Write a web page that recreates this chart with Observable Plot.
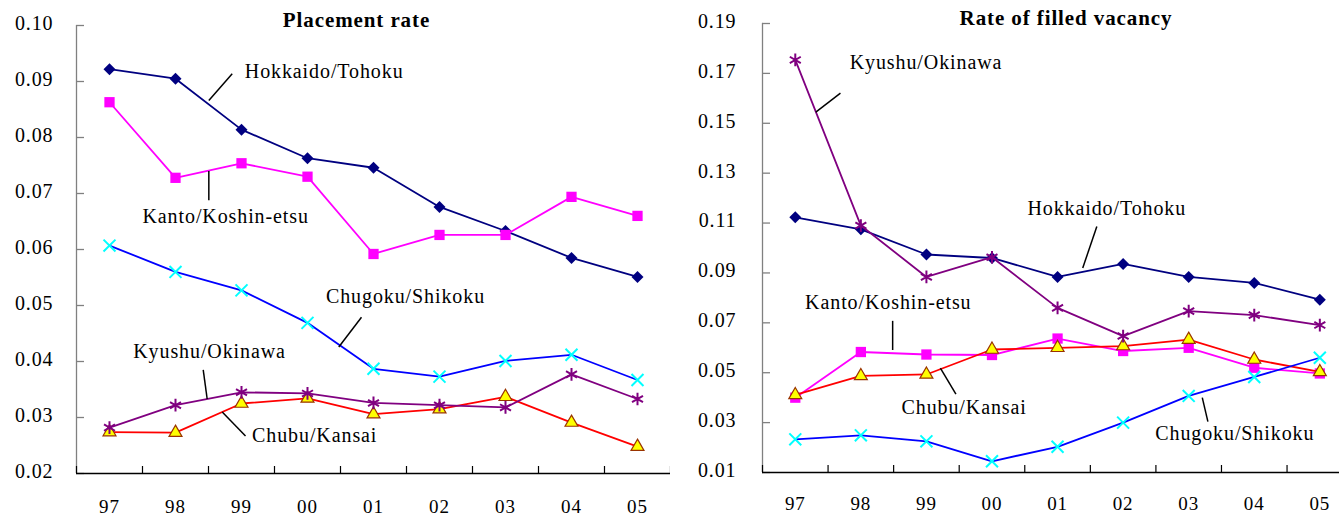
<!DOCTYPE html>
<html>
<head>
<meta charset="utf-8">
<script src="https://cdn.jsdelivr.net/npm/d3@7"></script>
<script src="https://cdn.jsdelivr.net/npm/@observablehq/plot@0.6"></script>
<style>
  html, body { margin: 0; padding: 0; background: #fff; }
  #wrap { display: flex; width: 1339px; height: 516px; }
  #wrap svg { display: block; }
  #wrap svg text { font-family: "Liberation Serif", "Times New Roman", serif !important; }
</style>
</head>
<body>
<div id="wrap"></div>
<script>
// Fiscal years on the horizontal axis
const years = ["97", "98", "99", "00", "01", "02", "03", "04", "05"];

// Placement rate by region
const placementHokkaido = [0.0922, 0.0905, 0.0814, 0.0763, 0.0746, 0.0676, 0.0633, 0.0585, 0.0551];
const placementKanto    = [0.0863, 0.0728, 0.0754, 0.0730, 0.0592, 0.0626, 0.0626, 0.0694, 0.0660];
const placementChubu    = [0.0274, 0.0273, 0.0325, 0.0334, 0.0306, 0.0315, 0.0337, 0.0291, 0.0248];
const placementChugoku  = [0.0607, 0.0560, 0.0527, 0.0469, 0.0387, 0.0373, 0.0401, 0.0412, 0.0367];
const placementKyushu   = [0.0282, 0.0322, 0.0345, 0.0343, 0.0326, 0.0322, 0.0318, 0.0377, 0.0333];

// Rate of filled vacancy by region
const vacancyHokkaido = [0.1123, 0.1075, 0.0974, 0.0960, 0.0884, 0.0936, 0.0884, 0.0860, 0.0793];
const vacancyKanto    = [0.0400, 0.0583, 0.0573, 0.0571, 0.0637, 0.0587, 0.0600, 0.0520, 0.0497];
const vacancyChubu    = [0.0411, 0.0487, 0.0493, 0.0593, 0.0600, 0.0607, 0.0633, 0.0553, 0.0503];
const vacancyChugoku  = [0.0233, 0.0249, 0.0225, 0.0145, 0.0203, 0.0300, 0.0407, 0.0483, 0.0560];
const vacancyKyushu   = [0.1754, 0.1090, 0.0884, 0.0963, 0.0760, 0.0647, 0.0747, 0.0731, 0.0691];

// Tick values for the two value axes
const placementTicks = [0.02, 0.03, 0.04, 0.05, 0.06, 0.07, 0.08, 0.09, 0.10];
const vacancyTicks = [0.01, 0.03, 0.05, 0.07, 0.09, 0.11, 0.13, 0.15, 0.17, 0.19];

// Line colour and marker for each region (drawing order)
const regionStyles = [
  {region: "Hokkaido/Tohoku",   line: "#000080", symbol: "diamond2", fill: "#000080", stroke: "none",    r: 5.4, sw: 1},
  {region: "Kanto/Koshin-etsu", line: "#FF00FF", symbol: "square",   fill: "#FF00FF", stroke: "none",    r: 5.8, sw: 1},
  {region: "Chubu/Kansai",      line: "#FF0000", symbol: "triangle", fill: "#FFFF00", stroke: "#993300", r: 4.8, sw: 1.2},
  {region: "Chugoku/Shikoku",   line: "#0000FF", symbol: "times",    fill: "none",    stroke: "#00FFFF", r: 5.5, sw: 2},
  {region: "Kyushu/Okinawa",    line: "#800080", symbol: "asterisk", fill: "none",    stroke: "#800080", r: 6,   sw: 2}
];

// Callout labels: text start point and leader line, in axis units
const placementNotes = [
  {region: "Hokkaido/Tohoku",   tx: 2.05, ty: 0.0917, x1: 1.505, y1: 0.0866, x2: 1.859, y2: 0.0914},
  {region: "Kanto/Koshin-etsu", tx: 0.50, ty: 0.0658, x1: 1.505, y1: 0.0740, x2: 1.505, y2: 0.0688},
  {region: "Chugoku/Shikoku",   tx: 3.28, ty: 0.0516, x1: 3.474, y1: 0.0426, x2: 3.818, y2: 0.0479},
  {region: "Kyushu/Okinawa",    tx: 0.36, ty: 0.0418, x1: 1.420, y1: 0.0385, x2: 1.480, y2: 0.0333},
  {region: "Chubu/Kansai",      tx: 2.16, ty: 0.0268, x1: 1.708, y1: 0.0310, x2: 2.061, y2: 0.0267}
];
const vacancyNotes = [
  {region: "Kyushu/Okinawa",    tx: 0.83, ty: 0.1745, x1: 0.313, y1: 0.1545, x2: 0.689, y2: 0.1621},
  {region: "Hokkaido/Tohoku",   tx: 3.54, ty: 0.1157, x1: 4.599, y1: 0.1086, x2: 4.384, y2: 0.0920},
  {region: "Kanto/Koshin-etsu", tx: 0.15, ty: 0.0782, x1: 1.485, y1: 0.0708, x2: 1.485, y2: 0.0591},
  {region: "Chubu/Kansai",      tx: 1.62, ty: 0.0360, x1: 2.213, y1: 0.0518, x2: 2.450, y2: 0.0414},
  {region: "Chugoku/Shikoku",   tx: 5.49, ty: 0.0256, x1: 6.207, y1: 0.0400, x2: 6.293, y2: 0.0304}
];

const serif = '"Liberation Serif", "Times New Roman", serif';

function panel({title, series, ticks, notes, width, height, marginLeft, marginTop, marginBottom,
                xMax, yPad, xPad, titleDx, titleDy}) {
  const innerW = width - marginLeft;
  const innerH = height - marginTop - marginBottom;
  const idx = d3.range(years.length);
  const boundaries = d3.range(years.length + 1).map(i => i - 0.5).filter(b => b <= xMax);
  const yMin = d3.min(ticks), yMax = d3.max(ticks);

  const marks = [
    // axis frame: grey value axis with inward ticks, black category axis with upward ticks
    Plot.ruleX([-0.5], {stroke: "#808080", strokeWidth: 1.3}),
    Plot.tickY(ticks, {y: d => d, stroke: "#808080", strokeWidth: 1.3, insetRight: innerW - 8}),
    Plot.tickX(boundaries, {x: d => d, stroke: "#000", strokeWidth: 1.2, insetTop: innerH - 7}),
    Plot.ruleY([yMin], {stroke: "#000", strokeWidth: 1.5}),
    Plot.axisY({ticks, tickSize: 0, tickPadding: yPad, tickFormat: d3.format(".2f"), label: null,
                dy: -2, fontFamily: serif, fontSize: 20}),
    Plot.axisX({ticks: idx, tickSize: 0, tickPadding: xPad, tickFormat: i => years[i], label: null,
                fontFamily: serif, fontSize: 19})
  ];

  for (const s of regionStyles) {
    const values = series[s.region];
    const rows = idx.map(i => ({i, v: values[i]}));
    marks.push(Plot.line(rows, {x: "i", y: "v", stroke: s.line, strokeWidth: 1.8}));
    marks.push(Plot.dot(rows, {x: "i", y: "v", symbol: s.symbol, r: s.r, fill: s.fill,
                               stroke: s.stroke, strokeWidth: s.sw}));
  }

  marks.push(Plot.link(notes, {x1: "x1", y1: "y1", x2: "x2", y2: "y2", stroke: "#000", strokeWidth: 1.5}));
  marks.push(Plot.text(notes, {x: "tx", y: "ty", text: "region", textAnchor: "start",
                               lineAnchor: "middle", fill: "#000", fontFamily: serif, fontSize: 20}));
  marks.push(Plot.text([title], {frameAnchor: "top", text: d => d, dx: titleDx, dy: titleDy,
                                 lineAnchor: "middle", fontWeight: "bold", fontSize: 21,
                                 fontFamily: serif, fill: "#000"}));

  return Plot.plot({
    width, height, marginLeft, marginRight: 0, marginTop, marginBottom,
    style: {fontFamily: serif, fontSize: "20px", letterSpacing: "0.9px", color: "#000",
            background: "#fff", overflow: "visible"},
    x: {domain: [-0.5, xMax], axis: null},
    y: {domain: [yMin, yMax], axis: null},
    marks
  });
}

const left = panel({
  title: "Placement rate",
  series: {
    "Hokkaido/Tohoku": placementHokkaido,
    "Kanto/Koshin-etsu": placementKanto,
    "Chubu/Kansai": placementChubu,
    "Chugoku/Shikoku": placementChugoku,
    "Kyushu/Okinawa": placementKyushu
  },
  ticks: placementTicks, notes: placementNotes,
  width: 670, height: 516, marginLeft: 76, marginTop: 25, marginBottom: 43,
  xMax: 8.5, yPad: 23, xPad: 26, titleDx: -17, titleDy: -5
});

const right = panel({
  title: "Rate of filled vacancy",
  series: {
    "Hokkaido/Tohoku": vacancyHokkaido,
    "Kanto/Koshin-etsu": vacancyKanto,
    "Chubu/Kansai": vacancyChubu,
    "Chugoku/Shikoku": vacancyChugoku,
    "Kyushu/Okinawa": vacancyKyushu
  },
  ticks: vacancyTicks, notes: vacancyNotes,
  width: 669, height: 516, marginLeft: 92, marginTop: 23, marginBottom: 44,
  xMax: 8.3, yPad: 26, xPad: 24, titleDx: 15, titleDy: -5
});

document.getElementById("wrap").append(left, right);
</script>
</body>
</html>
